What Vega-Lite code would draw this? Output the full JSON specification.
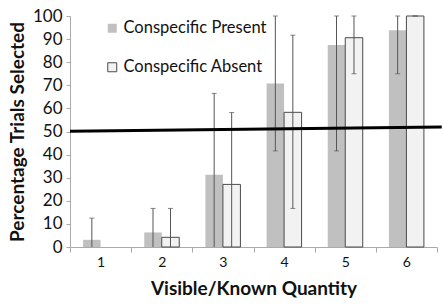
{
  "$schema": "https://vega.github.io/schema/vega-lite/v6.json",
  "width": 367,
  "height": 231,
  "autosize": "none",
  "padding": {"left": 70, "top": 16, "right": 6, "bottom": 59},
  "background": "white",
  "config": {
    "view": {"stroke": null},
    "font": "Lato",
    "axis": {"grid": false, "domainColor": "#aaaaaa", "tickColor": "#aaaaaa", "labelColor": "#111111", "titleColor": "#111111", "labelFont": "Lato", "titleFont": "Lato"},
    "axisY": {"tickCount": 11, "labelOverlap": false, "tickSize": 4, "labelFontSize": 17, "labelPadding": 4, "titleFontSize": 19, "titleFontWeight": "bold", "titlePadding": 5},
    "legend": {
      "orient": "none", "legendX": 34, "legendY": 4, "symbolType": "square", "symbolSize": 81,
      "labelFontSize": 16.5, "labelFont": "Lato", "labelColor": "#111111", "rowPadding": 22, "labelOffset": 3, "symbolStrokeWidth": 1
    }
  },
  "layer": [
    {
      "data": {"values": [
        {"qty": "1", "group": "Conspecific Present", "value": 3.1, "lo": 0, "hi": 12.5},
        {"qty": "2", "group": "Conspecific Present", "value": 6.3, "lo": 0, "hi": 16.7},
        {"qty": "3", "group": "Conspecific Present", "value": 31.3, "lo": 0, "hi": 66.5},
        {"qty": "4", "group": "Conspecific Present", "value": 70.8, "lo": 41.6, "hi": 100},
        {"qty": "5", "group": "Conspecific Present", "value": 87.5, "lo": 41.6, "hi": 100},
        {"qty": "6", "group": "Conspecific Present", "value": 93.8, "lo": 75, "hi": 100},
        {"qty": "1", "group": "Conspecific Absent", "value": 0, "lo": 0, "hi": 0},
        {"qty": "2", "group": "Conspecific Absent", "value": 4.2, "lo": 0, "hi": 16.7},
        {"qty": "3", "group": "Conspecific Absent", "value": 27.1, "lo": 0, "hi": 58.2},
        {"qty": "4", "group": "Conspecific Absent", "value": 58.3, "lo": 16.7, "hi": 91.7},
        {"qty": "5", "group": "Conspecific Absent", "value": 90.6, "lo": 75, "hi": 100},
        {"qty": "6", "group": "Conspecific Absent", "value": 100, "lo": 100, "hi": 100}
      ]},
      "encoding": {
        "x": {"field": "qty", "type": "nominal", "scale": {"paddingInner": 0, "paddingOuter": 0},
          "axis": {"title": "Visible/Known Quantity", "labelAngle": 0, "tickBand": "extent", "tickSize": 5, "labelFontSize": 14, "labelPadding": 3, "titleFontSize": 19, "titleFontWeight": "bold", "titlePadding": 10}},
        "xOffset": {"field": "group", "type": "nominal", "sort": ["Conspecific Present", "Conspecific Absent"], "scale": {"paddingInner": 0, "paddingOuter": 0.748}}
      },
      "layer": [
        {
          "transform": [{"filter": "datum.value > 0"}],
          "mark": {"type": "bar", "strokeWidth": 1},
          "encoding": {
            "y": {"field": "value", "type": "quantitative", "scale": {"domain": [0, 100], "nice": false},
              "axis": {"title": "Percentage Trials Selected", "values": [0, 10, 20, 30, 40, 50, 60, 70, 80, 90, 100]}},
            "fill": {"field": "group", "type": "nominal", "title": null,
              "scale": {"domain": ["Conspecific Present", "Conspecific Absent"], "range": ["#c0c0c0", "#f2f2f2"]}},
            "stroke": {"field": "group", "type": "nominal", "title": null,
              "scale": {"domain": ["Conspecific Present", "Conspecific Absent"], "range": ["transparent", "#4a4a4a"]}}
          }
        },
        {
          "transform": [{"filter": "datum.hi > 0"}],
          "mark": {"type": "rule", "color": "#555555", "strokeWidth": 1},
          "encoding": {
            "y": {"field": "lo", "type": "quantitative", "axis": {"title": "Percentage Trials Selected", "values": [0, 10, 20, 30, 40, 50, 60, 70, 80, 90, 100]}},
            "y2": {"field": "hi"}
          }
        },
        {
          "transform": [{"filter": "datum.hi > 0"}],
          "mark": {"type": "tick", "color": "#555555", "thickness": 1, "size": 5, "orient": "horizontal"},
          "encoding": {"y": {"field": "hi", "type": "quantitative", "axis": {"title": "Percentage Trials Selected", "values": [0, 10, 20, 30, 40, 50, 60, 70, 80, 90, 100]}}}
        },
        {
          "transform": [{"filter": "datum.lo > 0"}],
          "mark": {"type": "tick", "color": "#555555", "thickness": 1, "size": 5, "orient": "horizontal"},
          "encoding": {"y": {"field": "lo", "type": "quantitative", "axis": {"title": "Percentage Trials Selected", "values": [0, 10, 20, 30, 40, 50, 60, 70, 80, 90, 100]}}}
        }
      ]
    },
    {
      "data": {"values": [{"t": 0, "level": 50.1}, {"t": 1.013, "level": 52.0}]},
      "mark": {"type": "line", "color": "#000000", "strokeWidth": 3, "clip": false},
      "encoding": {
        "x": {"field": "t", "type": "quantitative", "scale": {"domain": [0, 1], "nice": false, "zero": false}, "axis": null},
        "y": {"field": "level", "type": "quantitative", "axis": {"title": "Percentage Trials Selected", "values": [0, 10, 20, 30, 40, 50, 60, 70, 80, 90, 100]}}
      }
    }
  ],
  "resolve": {"scale": {"x": "independent"}, "axis": {"x": "independent"}}
}
